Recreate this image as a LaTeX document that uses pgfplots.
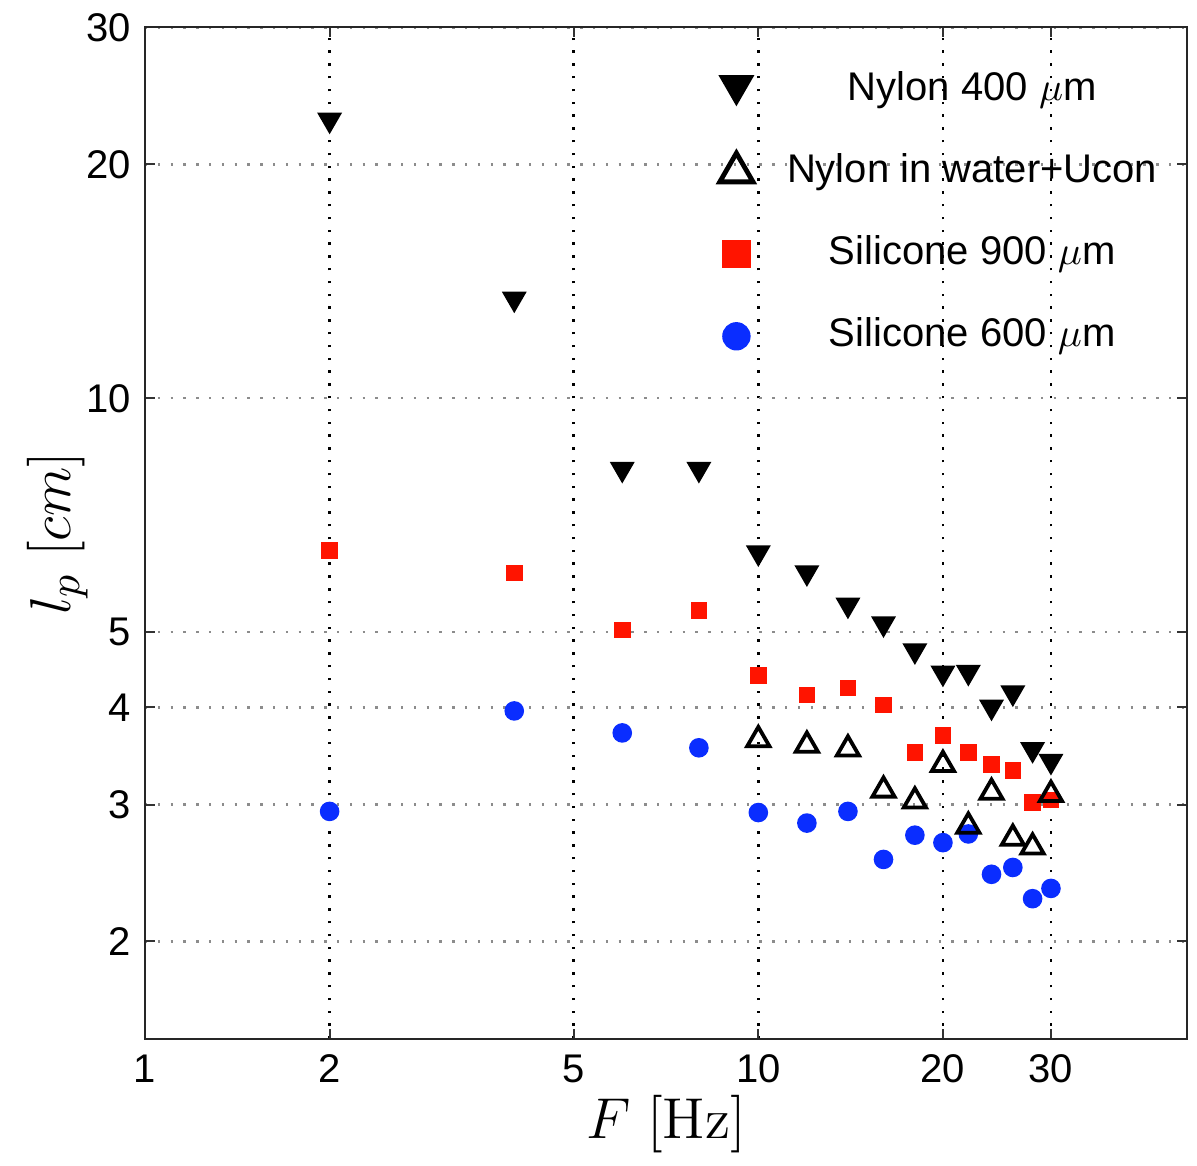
\documentclass[border=0pt]{standalone}
\usepackage[no-math]{fontspec}
\setmainfont{Liberation Sans}
\usepackage{pgfplots}
\pgfplotsset{compat=1.18}
\definecolor{sred}{RGB}{255,20,0}
\definecolor{sblue}{RGB}{10,45,255}
\begin{document}
\begin{tikzpicture}
\begin{axis}[
  name=ax,
  xmode=log, ymode=log,
  scale only axis, width=260.5pt, height=252.75pt,
  xmin=1, xmax=50, ymin=1.5, ymax=30,
  xtick={1,2,5,10,20,30}, xticklabels={1,2,5,10,20,30},
  ytick={2,3,4,5,10,20,30}, yticklabels={2,3,4,5,10,20,30},
  minor xtick={}, minor ytick={},
  tick align=inside, major tick length=2.5pt,
  tick style={black!80, line width=0.5pt},
  axis line style={black!85, line width=0.5pt},
  grid=major,
  major x grid style={black, line width=0.6pt, dash pattern=on 0.6pt off 2.6pt},
  major y grid style={black!45, line width=0.6pt, dash pattern=on 0.6pt off 2.6pt},
  tick label style={font=\fontsize{10}{11}\selectfont},
  xticklabel style={yshift=-0.5pt},
  xlabel={$F\ [\mathrm{Hz}]$},
  ylabel={$l_p\ [cm]$},
  label style={font=\fontsize{15}{17}\selectfont},
  xlabel style={at={(axis description cs:0.5,0)}, anchor=center, yshift=-21.3pt},
  ylabel style={at={(axis description cs:-0.084,0.5)}, anchor=center},
  reverse legend,
  legend cell align=center,
  legend style={draw=none, fill=none, at={(1,1)}, anchor=north east,
    xshift=-5.25pt, yshift=-9pt, inner sep=0pt, row sep=7.5pt, column sep=6.5pt,
    font=\fontsize{10}{11}\selectfont,
    nodes={inner sep=2pt, text height=7pt, text depth=2pt}},
]
% Silicone 600
\addplot[only marks, mark=*, mark size=2.25pt, color=sblue, mark options={draw=sblue, fill=sblue},
  legend image post style={mark size=3.35pt}]
  coordinates {(2,2.94) (4,3.96) (6,3.71) (8,3.55) (10,2.93) (12,2.84) (14,2.94) (16,2.55)
               (18,2.74) (20,2.68) (22,2.75) (24,2.44) (26,2.49) (28,2.27) (30,2.34)};
\addlegendentry{Silicone 600 $\mu$m}
% Silicone 900
\addplot[only marks, mark=square*, mark size=1.875pt, color=sred, mark options={draw=sred, fill=sred},
  legend image post style={mark size=3.35pt}]
  coordinates {(2,6.37) (4,5.96) (6,5.03) (8,5.33) (10,4.40) (12,4.15) (14,4.24) (16,4.03)
               (18,3.50) (20,3.68) (22,3.50) (24,3.38) (26,3.32) (28,3.02) (30,3.04)};
\addlegendentry{Silicone 900 $\mu$m}
% Nylon in water+Ucon
\addplot[only marks, mark=triangle, mark size=3.2pt, color=black, mark options={yshift=-0.8pt, line width=0.95pt},
  legend image post style={mark size=4.8pt, mark options={line width=1.2pt}}]
  coordinates {(10,3.67) (12,3.61) (14,3.57) (16,3.16) (18,3.06) (20,3.41) (22,2.84)
               (24,3.14) (26,2.74) (28,2.67) (30,3.12)};
\addlegendentry{Nylon in water+Ucon}
% Nylon 400
\addplot[only marks, mark=triangle*, mark size=3.2pt, color=black, mark options={yshift=0.8pt, rotate=180, fill=black},
  legend image post style={mark size=4.8pt, mark options={yshift=1.2pt, rotate=180, fill=black}}]
  coordinates {(2,22.6) (4,13.3) (6,8.03) (8,8.03) (10,6.27) (12,5.91) (14,5.37) (16,5.08)
               (18,4.69) (20,4.39) (22,4.40) (24,3.97) (26,4.14) (28,3.50) (30,3.38)};
\addlegendentry{Nylon 400 $\mu$m}
\end{axis}
\path (ax.south west) ++(-36.25pt,-28.75pt);
\path (ax.north east) ++(2.5pt,6pt);
\end{tikzpicture}
\end{document}
